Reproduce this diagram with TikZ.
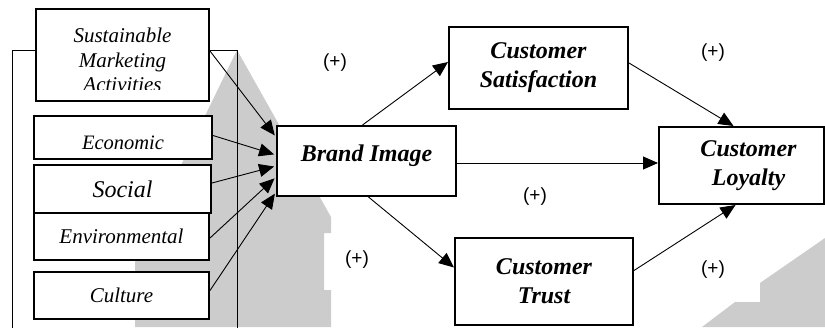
\documentclass[tikz,border=0pt]{standalone}
\usepackage{fontspec}
\setmainfont{Liberation Serif}
\newfontfamily\signfont{Liberation Sans}
\usetikzlibrary{arrows.meta}
\definecolor{wmgray}{gray}{0.8}

\begin{document}
\begin{tikzpicture}[x=1pt,y=-1pt,
        box/.style={draw,line width=2pt,fill=white,inner sep=0pt,align=center},
        dim/.style={box,font=\fontsize{21}{25}\selectfont\itshape},
        construct/.style={box,font=\fontsize{24}{29}\selectfont\bfseries\itshape},
        link/.style={line width=0.9pt,-{Triangle[length=15pt,width=13pt]}},
        sign/.style={font=\signfont\fontsize{19}{22}\selectfont}]
        \useasboundingbox (0,0) rectangle (825,327);
        % grey shapes behind
        \fill[wmgray] (237,50) -- (331,217) -- (331,233) -- (324,233) -- (324,290)
              -- (331,290) -- (331,327) -- (135,327) -- (135,260) -- cycle;
        \fill[wmgray] (702,327) -- (735,302) -- (760,302) -- (760,283) -- (825,238)
              -- (825,327) -- cycle;
        % frame round the dimensions
        \draw[line width=0.8pt] (12,330) -- (12,50) -- (237,50) -- (237,330);
        % dimensions
        \node[dim,minimum width=173pt,minimum height=92pt] (sma) at (122.5,55) {};
        \scope
        \clip (36,10) rectangle (209,89);
        \node[font=\fontsize{21}{24.5}\selectfont\itshape,align=center] (smatext) at (122.5,60) {Sustainable\\Marketing\\Activities};
        \endscope
        \node[dim,font=\fontsize{20.5}{24}\selectfont\itshape,minimum width=178pt,minimum height=43pt,text height=24pt,text depth=0pt] (econ) at (123,137.5) {Economic};
        \node[dim,font=\fontsize{24}{28}\selectfont\itshape,minimum width=177pt,minimum height=48pt] (soc) at (122.5,189) {Social};
        \node[dim,minimum width=175pt,minimum height=47pt] (env) at (121.5,236.5) {Environmental};
        \node[dim,minimum width=175pt,minimum height=47pt] (cult) at (121.5,295.5) {Culture};
        % constructs
        \node[construct,minimum width=179pt,minimum height=70pt,text height=12pt,text depth=12pt] (brand) at (366.5,161) {Brand Image};
        \node[construct,minimum width=179pt,minimum height=82pt] (sat) at (538.5,68) {Customer\\Satisfaction};
        \node[construct,minimum width=178pt,minimum height=87pt] (trust) at (544,281.5) {Customer\\Trust};
        \node[construct,minimum width=165pt,minimum height=77pt] (loyal) at (741.5,165.5) {\hspace*{14pt}Customer\\\hspace*{14pt}Loyalty};
        % paths
        \draw[link,shorten >=2pt] ([yshift=4pt]sma.east) -- ([yshift=24pt]brand.west);
        \draw[link,shorten >=2pt] ([yshift=2pt]econ.east) -- ([yshift=6pt]brand.west);
        \draw[link,shorten >=2pt] ([yshift=6pt]soc.east) -- ([yshift=-5pt]brand.west);
        \draw[link,shorten >=2pt] ([yshift=-1.5pt]env.east) -- ([yshift=-16pt]brand.west);
        \draw[link,shorten >=2pt] ([yshift=5pt]cult.east) -- ([yshift=-31pt]brand.west);
        \draw[link] ([xshift=-4pt]brand.north) -- ([yshift=6pt]sat.west);
        \draw[link] ([xshift=2pt]brand.south) -- ([yshift=14pt]trust.west);
        \draw[link] ([yshift=-2pt]brand.east) -- ([yshift=-2pt]brand.east -| loyal.west);
        \draw[link] ([yshift=5pt]sat.east) -- ([xshift=-8pt]loyal.north);
        \draw[link] ([yshift=11pt]trust.east) -- ([xshift=-6pt]loyal.south);
        % signs
        \node[sign] (p1) at (335,63) {(+)};
        \node[sign] (p2) at (535,197) {(+)};
        \node[sign] (p3) at (357,260) {(+)};
        \node[sign] (p4) at (713,53) {(+)};
        \node[sign] (p5) at (713,270) {(+)};
\end{tikzpicture}
\end{document}
